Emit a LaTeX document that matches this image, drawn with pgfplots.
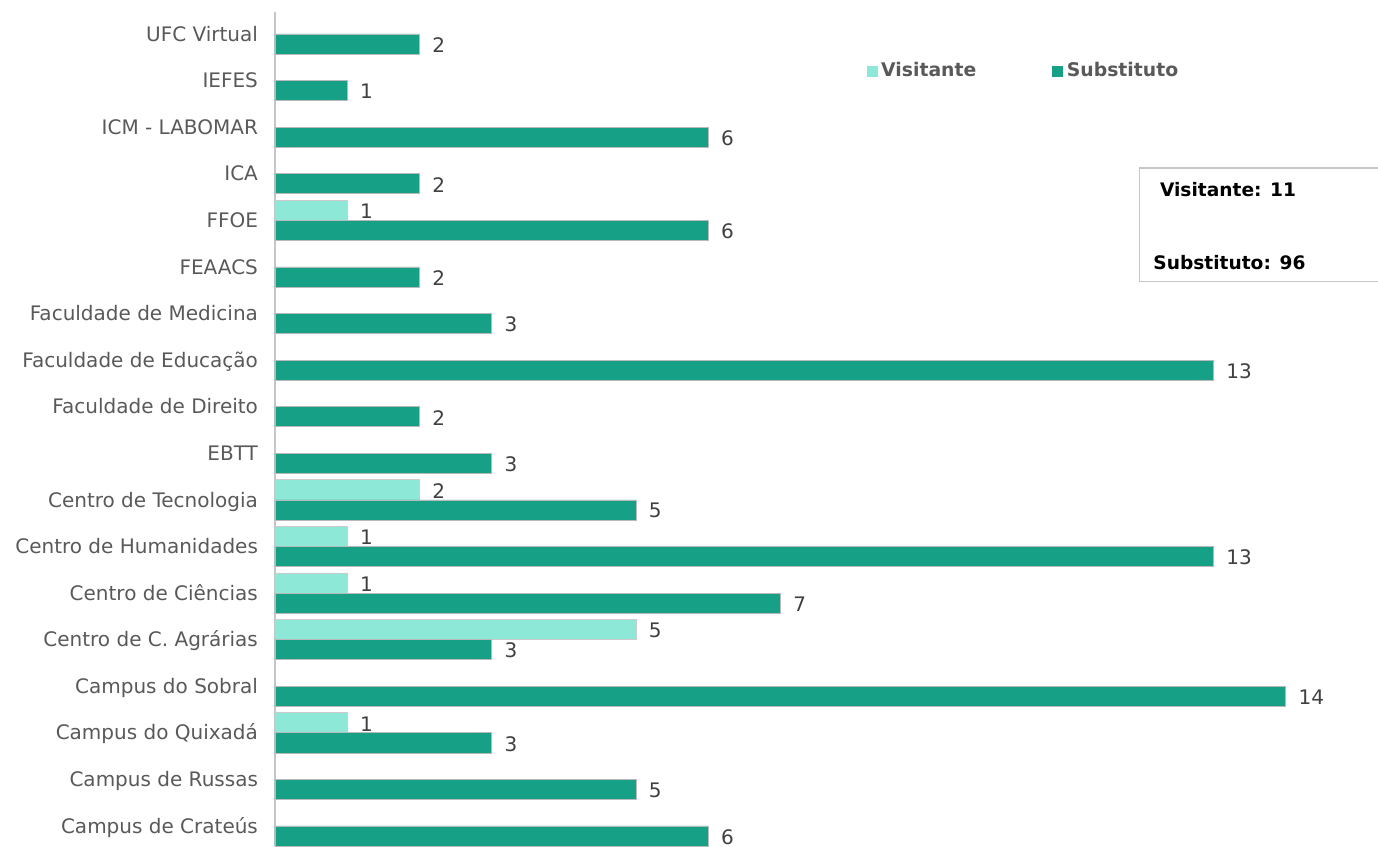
\documentclass[border=0pt]{standalone}
\usepackage{pgfplots}
\pgfplotsset{compat=1.18}
\usepackage{fontspec}
\setmainfont{DejaVu Sans}
\definecolor{subst}{RGB}{22,160,133}
\definecolor{visit}{RGB}{142,232,215}
\definecolor{lbl}{RGB}{89,89,89}
\definecolor{val}{RGB}{64,64,64}

\begin{document}
\begin{tikzpicture}
\begin{axis}[
  scale only axis, width=551.5pt, height=417pt,
  xbar, bar width=0.43,
  xmin=0, xmax=15.28, ymin=-0.43, ymax=17.47,
  axis x line=none, axis y line=left,
  y axis line style={-, draw=gray!45, line width=0.9pt},
  xtick=\empty,
  ytick={0,...,17},
  yticklabels={Campus de Crateús, Campus de Russas, Campus do Quixadá, Campus do Sobral,
    Centro de C. Agrárias, Centro de Ciências, Centro de Humanidades, Centro de Tecnologia,
    EBTT, Faculdade de Direito, Faculdade de Educação, Faculdade de Medicina, FEAACS, FFOE,
    ICA, ICM - LABOMAR, IEFES, UFC Virtual},
  major tick length=0pt,
  yticklabel style={font=\fontsize{10}{12}\selectfont, text=lbl, anchor=base east, yshift=-3.6pt, xshift=-5pt},
  /pgf/number format/assume math mode=true,
  nodes near coords,
  nodes near coords style={font=\fontsize{10}{12}\selectfont, text=val, xshift=3pt, yshift=-0.5pt, inner ysep=0pt},
  legend columns=2,
  legend style={draw=none, fill=none, at={(rel axis cs:0.536,0.929)}, anchor=west,
    font=\bfseries\fontsize{9.4}{11}\selectfont, text=lbl, inner sep=0pt,
    /tikz/every even column/.append style={column sep=36pt}},
]
\addplot[fill=visit, draw=gray!40, line width=0.3pt, bar shift=0.215,
  legend image code/.code={\fill[visit] (0pt,-2.5pt) rectangle (5pt,2.5pt);}]
  coordinates {(1,13) (2,7) (1,6) (1,5) (5,4) (1,2)};
\addlegendentry{Visitante}
\addplot[fill=subst, draw=gray!55, line width=0.3pt, bar shift=-0.215,
  legend image code/.code={\fill[subst] (0pt,-2.5pt) rectangle (5pt,2.5pt);}]
  coordinates {(6,0) (5,1) (3,2) (14,3) (3,4) (7,5) (13,6) (5,7) (3,8) (2,9)
    (13,10) (3,11) (2,12) (6,13) (2,14) (6,15) (1,16) (2,17)};
\addlegendentry{Substituto}
\draw[gray!45, line width=0.6pt] (rel axis cs:1,0.813) -| (rel axis cs:0.784,0.677) -- (rel axis cs:1,0.677);
\node[anchor=west, inner sep=0pt, font=\bfseries\fontsize{9.3}{11}\selectfont] at (rel axis cs:0.802,0.787) {Visitante: 11};
\node[anchor=west, inner sep=0pt, font=\bfseries\fontsize{9.3}{11}\selectfont] at (rel axis cs:0.796,0.700) {Substituto: 96};
\end{axis}
\path (current axis.south west) ++(-137.5pt,0pt);
\path (current axis.north west) ++(0pt,6pt);
\end{tikzpicture}
\end{document}
